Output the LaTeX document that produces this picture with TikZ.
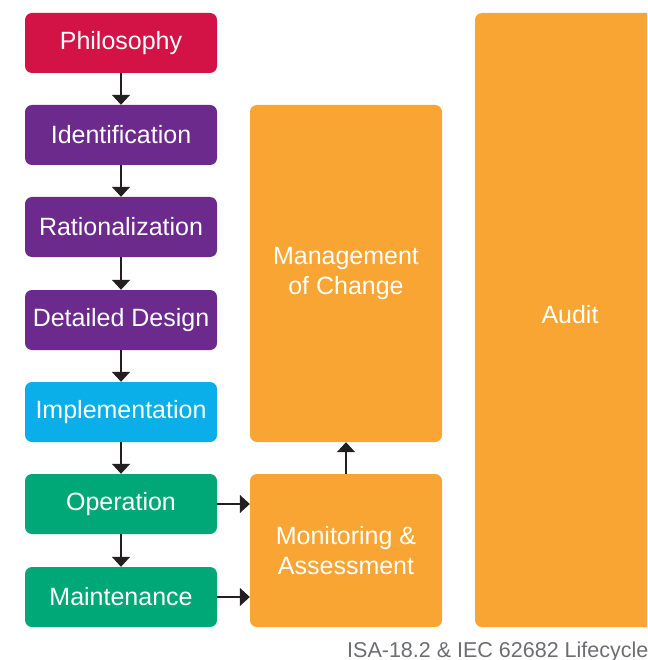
\documentclass[tikz,border=0pt]{standalone}
\usepackage{fontspec}
\setmainfont{Liberation Sans}
\usetikzlibrary{arrows.meta}
\definecolor{cred}{HTML}{D31245}
\definecolor{cpurple}{HTML}{6B2A8C}
\definecolor{ccyan}{HTML}{0AAEE8}
\definecolor{cgreen}{HTML}{00A878}
\definecolor{corange}{HTML}{F8A533}
\definecolor{cgray}{HTML}{6D6E71}
\definecolor{carrow}{HTML}{231F20}
\tikzset{
  stepbox/.style={rounded corners=7pt, minimum width=192pt, minimum height=60pt, text=white, font=\fontsize{25}{30}\selectfont, inner sep=0pt, align=center},
  conn/.style={draw=carrow, line width=1.5pt, -{Triangle[width=18pt,length=10pt]}},
}
\begin{document}
\begin{tikzpicture}[x=1pt,y=-1pt]
\useasboundingbox (0,0) rectangle (647,660);
\clip (0,0) rectangle (647,660);
\fill[white] (0,0) rectangle (647,660);
\node[stepbox, fill=cred] (phil) at (121,43) {Philosophy};
\node[stepbox, fill=cpurple] (ident) at (121,135) {Identification};
\node[stepbox, fill=cpurple] (rat) at (121,227) {Rationalization};
\node[stepbox, fill=cpurple] (det) at (121,320) {Detailed Design};
\node[stepbox, fill=ccyan] (impl) at (121,412) {Implementation};
\node[stepbox, fill=cgreen] (oper) at (121,504) {Operation};
\node[stepbox, fill=cgreen] (maint) at (121,597) {Maintenance};
\node[stepbox, fill=corange, minimum height=337pt] (moc) at (346,273.5) {Management\\of Change};
\node[stepbox, fill=corange, minimum height=153pt] (mon) at (346,550.5) {Monitoring \&\\Assessment};
\node[stepbox, fill=corange, minimum width=190pt, minimum height=614pt] (audit) at (570,320) {\raisebox{12pt}{Audit}};
\node[anchor=base west, text=cgray, font=\fontsize{21.5}{24}\selectfont, inner sep=0pt] (cap) at (347,657) {ISA-18.2 \& IEC 62682 Lifecycle};
\draw[conn] (phil) -- (ident);
\draw[conn] (ident) -- (rat);
\draw[conn] (rat) -- (det);
\draw[conn] (det) -- (impl);
\draw[conn] (impl) -- (oper);
\draw[conn] (oper) -- (maint);
\draw[conn] (oper.east) -- (oper.east -| mon.west);
\draw[conn] (maint.east) -- (maint.east -| mon.west);
\draw[conn] (mon) -- (moc);
\end{tikzpicture}
\end{document}
